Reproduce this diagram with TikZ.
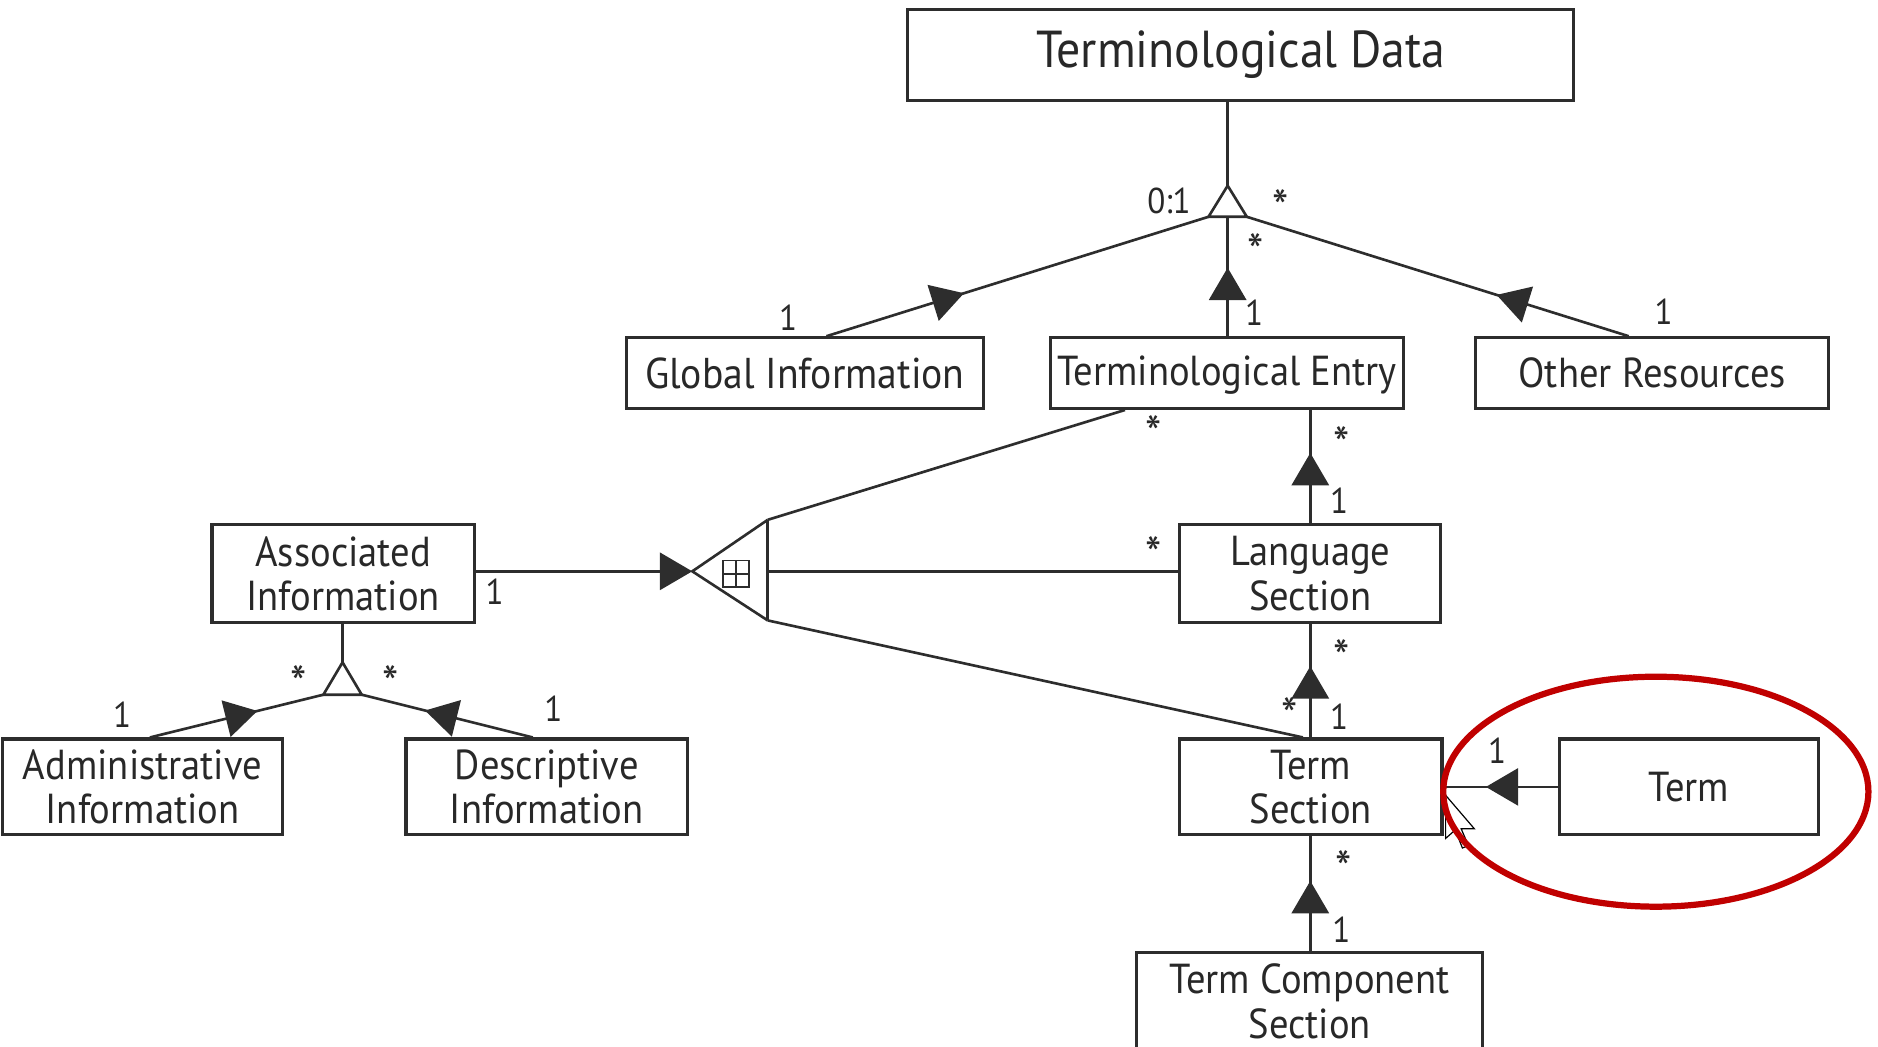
\documentclass[tikz,border=0pt]{standalone}
\usepackage{fontspec}
\setmainfont[FakeStretch=0.92]{PT Sans}
\usetikzlibrary{arrows.meta,decorations.markings,calc}
\definecolor{ln}{RGB}{45,45,45}
\definecolor{txt}{RGB}{40,40,40}
\definecolor{redc}{RGB}{192,0,0}
\begin{document}
\begin{tikzpicture}[x=0.5pt,y=-0.5pt,
  box/.style={draw=ln, line width=1.3pt, inner sep=0pt, align=center, text=txt,
    font=\fontsize{17.5}{18.5}\selectfont},
  conn/.style={draw=ln, line width=1.1pt},
  lbl/.style={inner sep=0pt, text=txt, font=\fontsize{15}{15}\selectfont},
  star/.style={inner sep=0pt, text=txt, font=\fontsize{21}{21}\selectfont},
  midarr/.style={postaction={decorate}, decoration={markings,
    mark=at position #1 with {\arrow{Triangle[length=13.5pt,width=15.5pt]}}}}]
\useasboundingbox (0,0) rectangle (1568,874);

% boxes
\node[box, minimum width=278pt, minimum height=38pt, font=\fontsize{21.7}{24}\selectfont] (td) at (1036,46) {Terminological Data};
\node[box, minimum width=149pt, minimum height=29.5pt, font=\fontsize{18}{18.5}\selectfont] (gi) at (672,311.5) {Global Information};
\node[box, minimum width=147.5pt, minimum height=29.5pt, text depth=2pt] (te) at (1024.5,311.5) {Terminological Entry};
\node[box, minimum width=147.5pt, minimum height=29.5pt] (or) at (1379.5,311.5) {Other Resources};
\node[box, minimum width=109.5pt, minimum height=41pt] (ai) at (286.5,479) {Associated\\Information};
\node[box, minimum width=109pt, minimum height=41pt] (ls) at (1094,479) {Language\\Section};
\node[box, minimum width=117pt, minimum height=40pt] (adm) at (119,657) {Administrative\\Information};
\node[box, minimum width=117.5pt, minimum height=40pt] (di) at (456.5,657) {Descriptive\\Information};
\node[box, minimum width=109.5pt, minimum height=40pt] (ts) at (1094.5,657) {Term\\Section};
\node[box, minimum width=108pt, minimum height=40pt] (term) at (1410,657) {Term};
\node[box, minimum width=144.5pt, minimum height=41pt] (tcs) at (1093.5,836) {Term Component\\Section};

% top triangle
\coordinate (t1a) at (1025,155);
\coordinate (t1l) at (1009,181);
\coordinate (t1r) at (1041,181);
\coordinate (t1b) at (1025,181);
\draw[conn] (td.south -| t1a) -- (t1a);
\draw[conn, midarr=0.36] ($(gi.north west)!0.56!(gi.north east)$) -- (t1l);
\draw[conn, midarr=0.574] (te.north -| t1b) -- (t1b);
\draw[conn, midarr=0.346] ($(or.north west)!0.434!(or.north east)$) -- (t1r);
\draw[conn, fill=white] (t1a) -- (t1r) -- (t1l) -- cycle;

% vertical chain
\draw[conn, midarr=0.62] (ls.north) -- (ls.north |- te.south);
\draw[conn, midarr=0.63] (ts.north -| ls.north) -- (ls.south);
\draw[conn, midarr=0.61] (tcs.north -| ls.north) -- (ls.north |- ts.south);
\draw[conn, midarr=0.63] (term.west) -- (term.west -| ts.east);

% fork
\coordinate (fv) at (578,477);
\coordinate (ft) at (641,434);
\coordinate (fb) at (641,518);
\coordinate (fm) at (641,477);
\draw[conn, -{Triangle[length=13.5pt,width=15.5pt]}] (ai.east |- fv) -- (fv);
\draw[conn] (ft) -- (fv) -- (fb);
\draw[conn] (ft) -- (fb);
\draw[conn] (fm) -- (fm -| ls.west);
\draw[conn] (ft) -- ($(te.south west)!0.2136!(te.south east)$);
\draw[conn] (fb) -- ($(ts.north west)!0.47!(ts.north east)$);
\draw[draw=ln, line width=0.8pt] (604,468) rectangle (625,490);
\draw[draw=ln, line width=0.8pt] (614.5,468) -- (614.5,490) (604,479) -- (625,479);

% lower-left triangle
\coordinate (t2a) at (286,553);
\coordinate (t2l) at (270,580);
\coordinate (t2r) at (302,580);
\draw[conn] (ai.south -| t2a) -- (t2a);
\draw[conn, midarr=0.62] ($(adm.north west)!0.526!(adm.north east)$) -- (t2l);
\draw[conn, midarr=0.63] ($(di.north west)!0.451!(di.north east)$) -- (t2r);
\draw[conn, fill=white] (t2a) -- (t2r) -- (t2l) -- cycle;

% multiplicities
\node[lbl] (m1) at (976,168) {0:1};
\node[star] (m2) at (1069,173) {*};
\node[star] (m3) at (1048,210) {*};
\node[lbl] (m4) at (1047,261) {1};
\node[lbl] (m5) at (658,265) {1};
\node[lbl] (m6) at (1389,260) {1};
\node[star] (m7) at (963,362) {*};
\node[star] (m8) at (1120,371) {*};
\node[lbl] (m9) at (1118,418) {1};
\node[star] (m10) at (963,463) {*};
\node[lbl] (m11) at (413,494) {1};
\node[star] (m12) at (1120,549) {*};
\node[star] (m13) at (1077,597) {*};
\node[lbl] (m14) at (1118,598) {1};
\node[lbl] (m15) at (1250,627) {1};
\node[star] (m16) at (1122,725) {*};
\node[lbl] (m17) at (1120,776) {1};
\node[star] (m18) at (249,571) {*};
\node[star] (m19) at (326,571) {*};
\node[lbl] (m20) at (102,597) {1};
\node[lbl] (m21) at (462,592) {1};

% cursor
\draw[black, line width=0.5pt, fill=white] (1207,664) -- ++(0,36) -- ++(8,-7) -- ++(6,15) -- ++(5,-2) -- ++(-6,-14) -- ++(11,0) -- cycle;

% highlight ellipse
\draw[draw=redc, line width=2.6pt] (1382.5,661) ellipse [x radius=88.75pt, y radius=48pt];
\end{tikzpicture}
\end{document}
